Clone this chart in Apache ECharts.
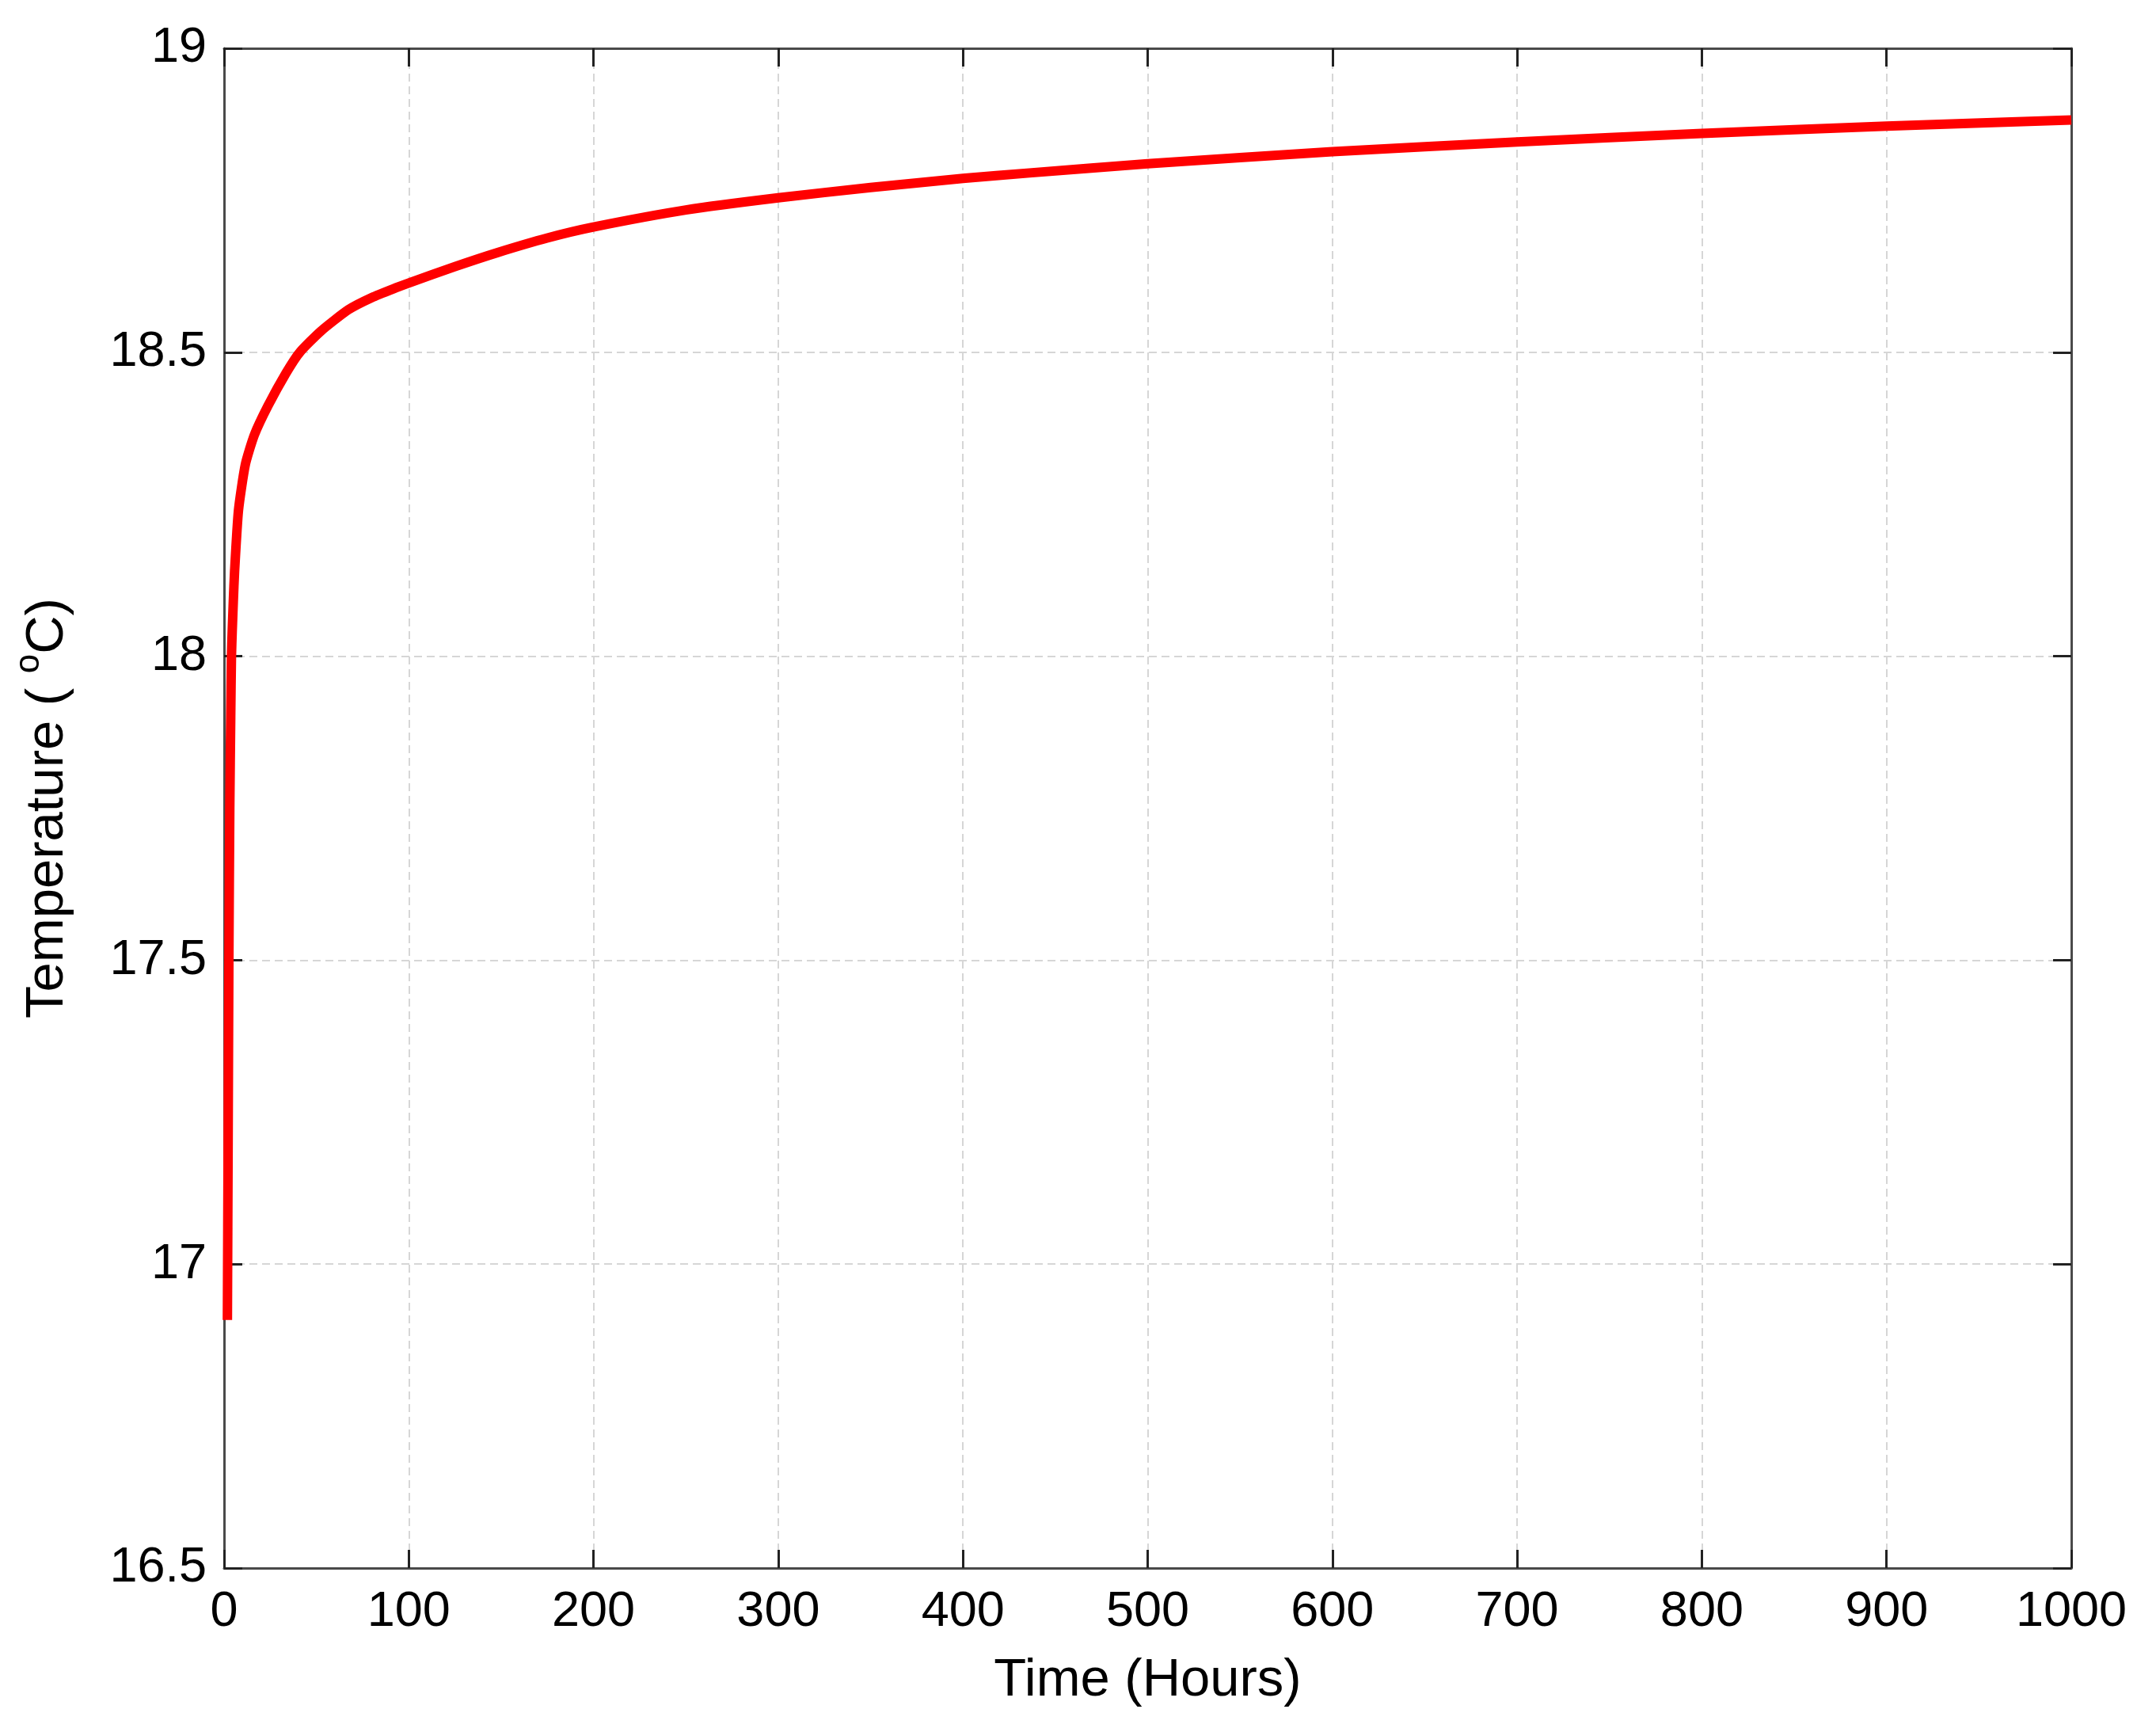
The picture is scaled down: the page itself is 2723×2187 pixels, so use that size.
<!DOCTYPE html>
<html>
<head>
<meta charset="utf-8">
<script src="https://cdn.jsdelivr.net/npm/echarts@6/dist/echarts.min.js"></script>
<style>
html,body{margin:0;padding:0;background:#fff;}
#chart{width:2723px;height:2187px;}
</style>
</head>
<body>
<div id="chart"></div>
<script>
// Data
var timeHours = [1.8, 2.2, 2.6, 3.1, 3.6, 4.0, 4.4, 5.0, 5.7, 7.8, 11.5, 16.4, 23.8, 33.6, 41, 52.5, 67.3, 80, 93, 100, 125, 148, 175, 200, 250, 300, 350, 400, 436, 500, 600, 700, 800, 900, 1000];
var temperature = [16.908, 17.2, 17.5, 17.75, 17.9, 18.0, 18.04, 18.09, 18.14, 18.24, 18.315, 18.364, 18.412, 18.466, 18.5, 18.535, 18.570, 18.590, 18.606, 18.614, 18.641, 18.664, 18.688, 18.706, 18.734, 18.754, 18.771, 18.786, 18.795, 18.810, 18.830, 18.846, 18.860, 18.872, 18.882];
var xTicks = [0, 100, 200, 300, 400, 500, 600, 700, 800, 900, 1000];
var yTicks = [16.5, 17, 17.5, 18, 18.5, 19];
var xTitle = 'Time (Hours)';
var yTitle = 'Temperature ( {sup|o}C)';

var seriesData = timeHours.map(function (t, i) { return [t, temperature[i]]; });

var FONT = 'Liberation Sans, Arial, sans-serif';
var xMin = xTicks[0], xMax = xTicks[xTicks.length - 1], xInt = xTicks[1] - xTicks[0];
var yMin = yTicks[0], yMax = yTicks[yTicks.length - 1], yInt = yTicks[1] - yTicks[0];

function axisLineStyle() { return { show: true, onZero: false, lineStyle: { color: '#4a4a4a', width: 3 } }; }
function tickStyle() { return { show: true, inside: true, length: 23, lineStyle: { color: '#222222', width: 3 } }; }
function gridLine() { return { show: true, lineStyle: { color: '#d6d6d6', width: 2, type: [10, 6] } }; }
function plainNum(v) { return String(v); }

var chart = echarts.init(document.getElementById('chart'), null, { renderer: 'canvas' });
chart.setOption({
  backgroundColor: '#ffffff',
  animation: false,
  grid: { left: 283, right: 107, top: 61, bottom: 207, containLabel: false },
  xAxis: [
    {
      type: 'value', min: xMin, max: xMax, interval: xInt, position: 'bottom',
      name: xTitle, nameLocation: 'middle', nameGap: 109,
      nameTextStyle: { fontFamily: FONT, fontSize: 67, color: '#000' },
      axisLine: axisLineStyle(),
      axisTick: tickStyle(),
      axisLabel: { fontFamily: FONT, fontSize: 63, color: '#000', margin: 24, formatter: plainNum },
      splitLine: gridLine()
    },
    {
      type: 'value', min: xMin, max: xMax, interval: xInt, position: 'top',
      axisLine: axisLineStyle(),
      axisTick: tickStyle(),
      axisLabel: { show: false },
      splitLine: { show: false }
    }
  ],
  yAxis: [
    {
      type: 'value', min: yMin, max: yMax, interval: yInt, position: 'left',
      name: yTitle, nameLocation: 'middle', nameGap: 176, nameRotate: 90,
      nameTextStyle: {
        fontFamily: FONT, fontSize: 67, color: '#000',
        rich: {
          sup: { fontFamily: FONT, fontSize: 44, color: '#000', verticalAlign: 'top', padding: [0, 0, 48, 0] }
        }
      },
      axisLine: axisLineStyle(),
      axisTick: tickStyle(),
      axisLabel: { fontFamily: FONT, fontSize: 63, color: '#000', margin: 22, formatter: plainNum },
      splitLine: gridLine()
    },
    {
      type: 'value', min: yMin, max: yMax, interval: yInt, position: 'right',
      axisLine: axisLineStyle(),
      axisTick: tickStyle(),
      axisLabel: { show: false },
      splitLine: { show: false }
    }
  ],
  series: [
    {
      type: 'line',
      xAxisIndex: 0, yAxisIndex: 0,
      data: seriesData,
      showSymbol: false,
      smooth: 0.2,
      lineStyle: { color: '#ff0000', width: 12, join: 'round', cap: 'butt' },
      z: 5
    }
  ]
});
</script>
</body>
</html>
